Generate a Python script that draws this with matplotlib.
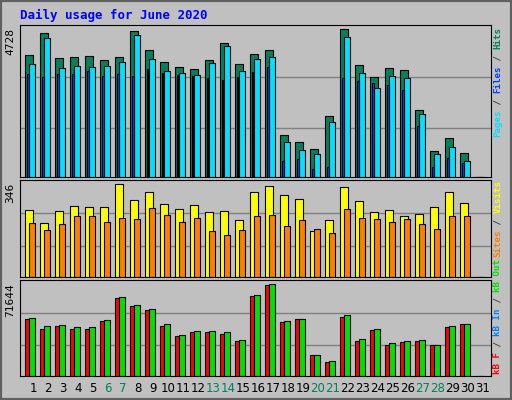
import numpy as np
import matplotlib.pyplot as plt
from matplotlib.patches import Rectangle

# datos (junio 2020)
dias = list(range(1, 32))
hits = [3894, 4600, 3797, 3829, 3862, 3733, 3829, 4664, 4054, 3669, 3509, 3444, 3733, 4279, 3605,
        3926, 4054, 1359, 1134, 909, 1968, 4728, 3573, 3188, 3477, 3412, 2161, 845, 1262, 781, 0]
files = [3605, 4439, 3477, 3541, 3509, 3541, 3669, 4536, 3765, 3380, 3316, 3252, 3637, 4183, 3380,
         3765, 3829, 1134, 877, 749, 1776, 4471, 3316, 2835, 3220, 3156, 2032, 749, 973, 524, 0]
pages = [3284, 3188, 3284, 3284, 3380, 3220, 3284, 3220, 3444, 3316, 3252, 3220, 3156, 3091, 3188,
         3348, 3509, 524, 588, 267, 332, 3156, 3059, 2995, 2931, 2771, 1647, 332, 620, 460, 0]
visits = [249, 200, 245, 264, 260, 260, 346, 286, 316, 271, 252, 267, 241, 245, 211,
          316, 338, 305, 290, 170, 211, 335, 282, 241, 249, 226, 234, 260, 316, 275, 0]
sites = [200, 177, 196, 226, 226, 207, 219, 215, 256, 230, 207, 222, 170, 155, 174,
         226, 230, 192, 211, 181, 166, 252, 219, 215, 204, 215, 196, 181, 226, 226, 0]
kb_f = [44194, 37133, 38702, 37133, 37133, 42625, 60668, 54392, 51254, 38702, 31642, 34780, 34780, 33211, 27719,
        62237, 70867, 41840, 44194, 16736, 11245, 45763, 27719, 36349, 24581, 26935, 27719, 24581, 37918, 40271, 0]
kb_in = [300] * 19 + [150] * 3 + [300] * 4 + [150] * 5
kb_out = [44978, 38702, 39487, 37918, 37918, 43409, 61453, 55177, 52039, 40271, 32426, 35564, 35564, 34780, 28504,
          63022, 71644, 42625, 44194, 16736, 12029, 47332, 29288, 37133, 26150, 27719, 28504, 24581, 38702, 40271, 0]
fines_semana = [6, 7, 13, 14, 20, 21, 27, 28]

W, H = 512, 400
GRIS = '#C0C0C0'
MONO = 'DejaVu Sans Mono'

fig = plt.figure(figsize=(W / 100, H / 100), dpi=100, facecolor=GRIS)
fig.patches.append(Rectangle((0, 0), 1, 1, transform=fig.transFigure, fill=False,
                             edgecolor='#606060', linewidth=3))

x = np.array(dias)


def panel(y0, y1):
    ax = fig.add_axes([20 / W, 1 - y1 / H, 471 / W, (y1 - y0) / H])
    ax.set_facecolor(GRIS)
    ax.set_xlim(1 - 13 / 15, 1 - 13 / 15 + 471 / 15)
    ax.set_xticks([])
    ax.set_yticks([])
    for s in ax.spines.values():
        s.set_color('black')
    return ax


def barras(ax, vals, left, width, color):
    ax.bar(x + left, vals, width=width, align='edge', color=color, edgecolor='black', linewidth=0.8)


def lineas_grid(ax, top):
    for f in (0.32, 0.655):
        ax.axhline(f * top, color='#808080', linewidth=1, zorder=0)


def etiqueta_derecha(y_abajo, partes, fs=6.6):
    cw = 0.6 * fs * 100 / 72
    pos = y_abajo
    for texto, color in partes:
        fig.text(498 / W, 1 - pos / H, texto, rotation=90, ha='center', va='bottom',
                 color=color, fontsize=fs, family=MONO, fontweight='bold')
        pos -= cw * len(texto)


# panel 1: hits / files / pages
ax1 = panel(25, 177)
top1 = 4867
ax1.set_ylim(0, top1)
lineas_grid(ax1, top1)
barras(ax1, hits, -0.51, 0.5, '#00805C')
barras(ax1, files, -0.25, 0.36, '#00E0FF')
barras(ax1, pages, -0.42, 0.12, '#0040FF')
fig.text(10 / W, 1 - 28 / H, '4728', rotation=90, ha='center', va='top', fontsize=8, family=MONO)

# panel 2: visits / sites
ax2 = panel(180, 277)
top2 = 362
ax2.set_ylim(0, top2)
lineas_grid(ax2, top2)
barras(ax2, visits, -0.51, 0.5, '#FFFF00')
barras(ax2, sites, -0.25, 0.36, '#FF8000')
fig.text(10 / W, 1 - 183 / H, str(max(visits)), rotation=90, ha='center', va='top', fontsize=8, family=MONO)

# panel 3: kB
ax3 = panel(280, 376)
top3 = 75050
ax3.set_ylim(0, top3)
lineas_grid(ax3, top3)
barras(ax3, kb_f, -0.51, 0.5, '#FF0000')
barras(ax3, kb_out, -0.25, 0.36, '#00E000')
ax3.bar(x - 0.47, kb_in, width=0.12, align='edge', color='#0080FF', linewidth=0)
fig.text(10 / W, 1 - 283 / H, str(max(kb_out)), rotation=90, ha='center', va='top', fontsize=8, family=MONO)

# etiquetas de dias
for d in dias:
    c = '#00805C' if d in fines_semana else 'black'
    xp = ax3.transData.transform((d, 0))[0]
    fig.text(xp / fig.bbox.width, 1 - 389 / H, str(d), ha='center', va='center', fontsize=8.5, color=c)

fig.text(20 / W, 1 - 15 / H, 'Daily usage for June 2020', ha='left', va='center',
         color='#0000FF', fontsize=9, family=MONO, fontweight='bold')

etiqueta_derecha(137, [('Pages', '#00E0FF'), (' / ', '#404040'), ('Files', '#0040FF'),
                       (' / ', '#404040'), ('Hits', '#00805C')])
etiqueta_derecha(257, [('Sites', '#FF8000'), (' / ', '#404040'), ('Visits', '#FFFF00')])
etiqueta_derecha(374, [('kB F', '#FF0000'), (' / ', '#404040'), ('kB In', '#0080FF'),
                       (' / ', '#404040'), ('kB Out', '#00E000')])

fig.savefig('out.png', dpi=100, facecolor=GRIS)
